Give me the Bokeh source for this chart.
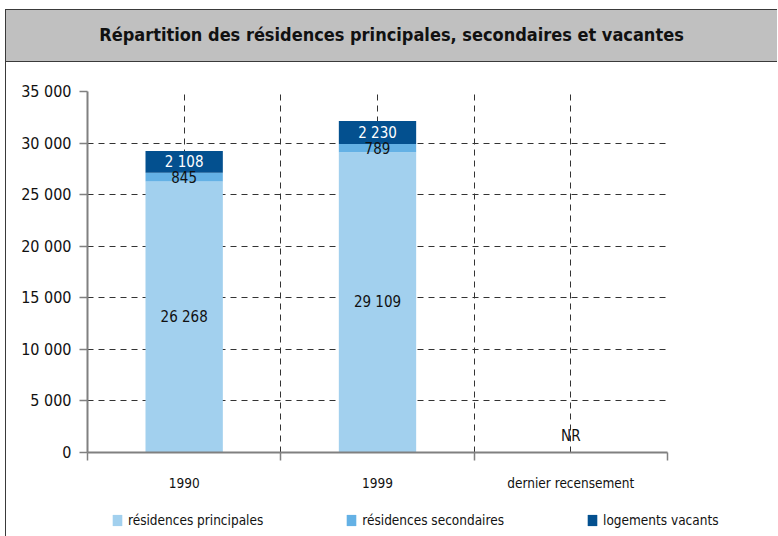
from bokeh.plotting import figure
from bokeh.models import FixedTicker, Legend, LegendItem, ColumnDataSource, Label, Div
from bokeh.layouts import column
from bokeh.core.properties import value
from bokeh.embed import file_html
from bokeh.resources import INLINE

# ---- data ----
title = "Répartition des résidences principales, secondaires et vacantes"
categories = ["1990", "1999", "dernier recensement"]
principales = [26268, 29109, None]
secondaires = [845, 789, None]
vacants = [2108, 2230, None]
series_names = ["résidences principales", "résidences secondaires", "logements vacants"]
series_colors = ["#a2d0ee", "#64b1e5", "#03508f"]
label_colors = ["#111111", "#111111", "#ffffff"]
missing_label = "NR"
y_ticks = [0, 5000, 10000, 15000, 20000, 25000, 30000, 35000]
y_tick_labels = ["0", "5 000", "10 000", "15 000", "20 000", "25 000", "30 000", "35 000"]

FONT = "'DejaVu Sans Condensed', Roboto, sans-serif"
W = 771

# ---- title band ----
band = Div(text=title, width=W, height=53, margin=0,
           styles={"background-color": "#c0c0c0",
                   "border-top": "1.5px solid #3a3a3a",
                   "border-bottom": "1.5px solid #3a3a3a",
                   "box-sizing": "border-box",
                   "font-family": FONT, "font-stretch": "condensed",
                   "font-weight": "bold", "font-size": "18px", "color": "#111111",
                   "text-align": "center", "line-height": "50px"})

# ---- chart ----
n = len(categories)
xs = [i + 0.5 for i in range(n)]
p = figure(width=W, height=438, x_range=(0, n), y_range=(0, y_ticks[-1]),
           output_backend="svg", toolbar_location=None,
           min_border_left=81, min_border_right=110, min_border_top=29, min_border_bottom=48)
p.outline_line_color = None

valid = [i for i in range(n) if principales[i] is not None]
src = ColumnDataSource(dict(
    x=[xs[i] for i in valid],
    p=[principales[i] for i in valid],
    s=[secondaires[i] for i in valid],
    v=[vacants[i] for i in valid],
))
stack_keys = ["p", "s", "v"]
renderers = p.vbar_stack(stack_keys, x="x", width=0.4, source=src,
                         color=series_colors, line_color=None)

# segment labels
for k in range(3):
    ys, txt, lx = [], [], []
    for i in valid:
        vals = [principales[i], secondaires[i], vacants[i]]
        base = sum(vals[:k])
        ys.append(base + vals[k] / 2)
        txt.append(f"{vals[k]:,}".replace(",", " "))
        lx.append(xs[i])
    p.text(x=lx, y=ys, text=txt, text_align="center", text_baseline="middle",
           text_font=value(FONT), text_font_size="15px", text_color=label_colors[k])

# NR labels
for i in range(n):
    if principales[i] is None:
        p.add_layout(Label(x=xs[i], y=0, text=missing_label, text_align="center",
                           text_baseline="bottom", y_offset=8, text_font=FONT,
                           text_font_size="15px", text_color="#111111"))

# axes
p.xaxis.ticker = FixedTicker(ticks=xs, minor_ticks=list(range(n + 1)))
p.xaxis.major_label_overrides = {x: c for x, c in zip(xs, categories)}
p.xaxis.major_tick_out = 0
p.xaxis.major_tick_in = 0
p.xaxis.minor_tick_out = 8
p.xaxis.minor_tick_in = 0
p.xaxis.minor_tick_line_color = "#808080"
p.xaxis.minor_tick_line_width = 1.5
p.xaxis.major_label_standoff = 14
p.xaxis.major_label_text_font = FONT
p.xaxis.major_label_text_font_size = "13.5px"
p.xaxis.major_label_text_color = "#111111"
p.xaxis.axis_line_color = "#808080"
p.xaxis.axis_line_width = 2

p.yaxis.ticker = FixedTicker(ticks=y_ticks, minor_ticks=[])
p.yaxis.major_label_overrides = {v: s for v, s in zip(y_ticks, y_tick_labels)}
p.yaxis.major_tick_out = 8
p.yaxis.major_tick_in = 0
p.yaxis.major_tick_line_color = "#808080"
p.yaxis.major_tick_line_width = 1.5
p.yaxis.major_label_standoff = 8
p.yaxis.major_label_text_font = FONT
p.yaxis.major_label_text_font_size = "16px"
p.yaxis.major_label_text_color = "#111111"
p.yaxis.axis_line_color = "#808080"
p.yaxis.axis_line_width = 2

p.xgrid.ticker = FixedTicker(ticks=[k / 2 for k in range(2 * n + 1)])
for g in (p.xgrid, p.ygrid):
    g.grid_line_color = "#333333"
    g.grid_line_dash = "6 5"
    g.grid_line_width = 1

# ---- legend strip (same series, renderers hidden, only legend shown) ----
lf = figure(width=W, height=36, x_range=(0, n), y_range=(0, y_ticks[-1]),
            output_backend="svg", toolbar_location=None,
            min_border_left=0, min_border_right=0, min_border_top=0, min_border_bottom=0)
lf.axis.visible = False
lf.grid.visible = False
lf.outline_line_color = None
leg_renderers = lf.vbar_stack(stack_keys, x="x", width=0.4, source=src,
                              color=series_colors, line_color=None)
for r in leg_renderers:
    r.visible = False
lg = Legend(items=[LegendItem(label=nm, renderers=[r]) for nm, r in zip(series_names, leg_renderers)],
            orientation="horizontal", location=(105, 8), padding=0, margin=0,
            spacing=82, border_line_color=None, background_fill_alpha=0,
            glyph_width=12, glyph_height=14, label_standoff=5,
            inactive_fill_alpha=0,
            label_text_font=FONT, label_text_font_size="13.5px", label_text_color="#111111")
lf.add_layout(lg, "center")

for fig in (p, lf):
    if "frame_align" in fig.properties():
        fig.frame_align = False

layout = column(band, p, lf, spacing=0, margin=(9, 0, 0, 5),
                styles={"border-left": "1.5px solid #3a3a3a"})
open("out.html", "w").write(file_html(layout, INLINE))
